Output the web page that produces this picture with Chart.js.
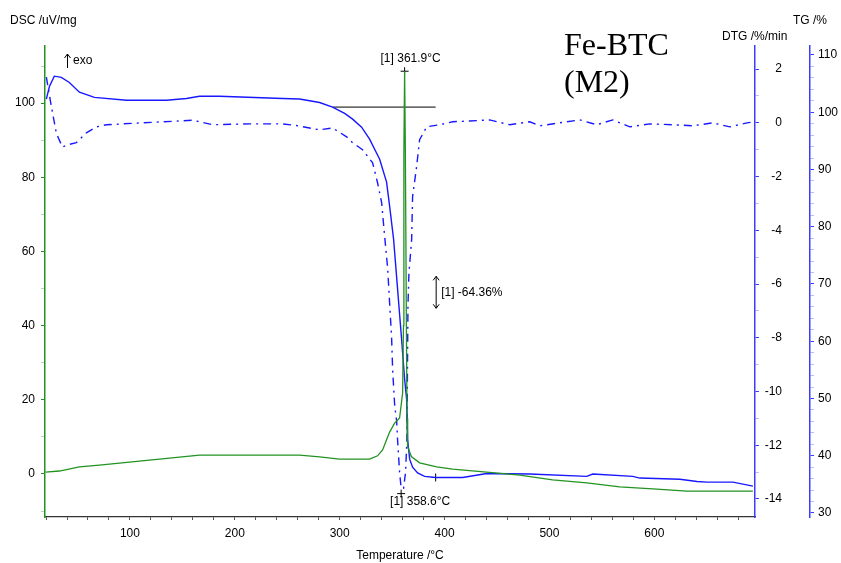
<!DOCTYPE html>
<html>
<head>
<meta charset="utf-8">
<script src="https://cdn.jsdelivr.net/npm/chart.js@4"></script>
<style>
  html, body { margin: 0; padding: 0; background: #fff; }
  #wrap { width: 841px; height: 563px; }
</style>
</head>
<body>
<div id="wrap"><canvas id="tga" width="841" height="563"></canvas></div>
<script>
// TG curve (solid blue, right outer axis)
const tgTemp = [20.3, 23.2, 27.9, 34.6, 42.2, 51.8, 66.1, 96.6, 134.8, 153.9, 166.3, 185.4, 245.5, 261.7, 280.8, 293.2, 304.7, 312.3, 320.9, 328.5, 338.1, 344.7, 347.6, 351.4, 355.2, 359.0, 361.9, 363.8, 364.7, 366.7, 369.5, 374.3, 381.0, 391.5, 417.3, 440.2, 481.2, 535.6, 541.3, 579.5, 586.2, 624.4, 640.7, 650.2, 675.0, 694.0];
const tgMass = [102.3, 104.5, 106.3, 106.1, 105.2, 103.5, 102.6, 102.1, 102.1, 102.4, 102.8, 102.8, 102.4, 102.3, 101.7, 100.9, 99.8, 98.8, 97.4, 95.3, 91.8, 87.8, 83.6, 77.8, 69.1, 60.4, 53.4, 49.9, 42.9, 39.4, 38.0, 37.0, 36.4, 36.2, 36.2, 36.9, 36.8, 36.4, 36.8, 36.4, 36.1, 35.9, 35.5, 35.4, 35.4, 34.7];

// DSC curve (green, left axis)
const dscTemp = [19.5, 32.7, 51.8, 70.9, 99.5, 128.1, 166.3, 233.1, 261.7, 280.8, 299.9, 328.5, 336.1, 340.9, 344.7, 347.6, 352.4, 357.1, 360.0, 360.8, 361.2, 361.9, 362.6, 363.6, 364.2, 364.8, 368.3, 376.2, 392.4, 407.7, 440.2, 471.6, 503.1, 535.6, 567.0, 598.5, 631.0, 694.0];
const dscSignal = [0.5, 0.8, 1.9, 2.4, 3.2, 4.0, 5.1, 5.1, 5.1, 4.6, 4.0, 4.0, 4.9, 6.5, 9.2, 11.3, 13.7, 15.1, 21.8, 40.0, 87.0, 108.6, 87.0, 40.0, 15.0, 7.4, 4.7, 3.0, 1.9, 1.3, 0.5, -0.3, -1.6, -2.4, -3.5, -4.0, -4.6, -4.6];

// DTG curve (dash-dot blue, right inner axis)
const dtgTemp = [20.3, 25.1, 29.9, 35.6, 42.3, 48.9, 58.5, 68.0, 77.6, 111.9, 147.2, 159.6, 178.7, 214.0, 245.5, 258.8, 280.8, 293.2, 306.6, 312.3, 321.8, 331.4, 336.1, 340.0, 342.8, 345.7, 347.6, 349.5, 350.5, 352.4, 354.3, 355.2, 357.1, 358.6, 360.9, 362.8, 364.1, 365.1, 366.0, 368.6, 369.5, 373.3, 376.2, 382.9, 395.3, 407.7, 423.9, 443.0, 462.1, 481.2, 490.7, 509.8, 528.9, 545.1, 560.4, 576.6, 595.7, 617.6, 636.7, 655.8, 672.0, 688.3, 696.0];
const dtgRate = [1.7, 0.6, -0.4, -0.9, -0.8, -0.74, -0.37, -0.15, -0.07, 0.0, 0.07, 0.1, -0.07, -0.04, -0.04, -0.1, -0.26, -0.19, -0.52, -0.74, -1.0, -1.49, -2.23, -2.97, -4.2, -5.4, -6.7, -8.0, -9.2, -10.5, -11.1, -11.8, -13.0, -13.6, -13.6, -13.0, -11.8, -6.8, -5.6, -4.35, -2.75, -1.64, -0.63, -0.15, -0.07, 0.04, 0.07, 0.11, -0.07, 0.04, -0.11, 0.0, 0.11, -0.07, 0.11, -0.15, -0.04, -0.07, -0.11, 0.0, -0.15, 0.0, 0.04];

// evaluation marks
const peakT = 361.9, peakDsc = 108.6;
const dtgMinT = 358.6, dtgMin = -13.6;
const onsetT = [293.2, 391.5], onsetMass = 100.9;
const massEndT = 391.5, massEnd = 36.2;
const massLoss = -64.36;

// tick labels
const tempLabels = [100, 200, 300, 400, 500, 600];
const dscLabels = [0, 20, 40, 60, 80, 100];
const dtgLabels = [-14, -12, -10, -8, -6, -4, -2, 0, 2];
const tgLabels = [30, 40, 50, 60, 70, 80, 90, 100, 110];

const GREEN = '#229322';
const BLUE = '#1818ff';
const AXBLUE = '#3c3cff';
const FONT = '"Liberation Sans", Arial, sans-serif';

function pts(xs, ys) {
  return xs.map((t, i) => ({ x: t, y: ys[i] }));
}

function stepTicks(from, to, step) {
  const out = [];
  for (let v = from; v <= to + 1e-9; v += step) out.push({ value: Math.round(v * 100) / 100 });
  return out;
}

function tickCol(labels, major, minor) {
  return c => (c.tick && labels.includes(c.tick.value)) ? major : minor;
}

// DTG labels are right aligned close to their axis line, pull the label edge in
const dtgLabelEdge = {
  id: 'dtgLabelEdge',
  afterLayout(chart) {
    const s = chart.scales.y1;
    s.right = s.left + 27;
  }
};

const textPlugin = {
  id: 'tgaText',
  afterDraw(chart) {
    const ctx = chart.ctx;
    const { x, y, y1, y2 } = chart.scales;
    ctx.save();
    ctx.fillStyle = '#000';
    ctx.strokeStyle = '#000';
    ctx.lineWidth = 1;
    ctx.font = '12px ' + FONT;
    ctx.textBaseline = 'middle';
    ctx.textAlign = 'left';

    // axis titles
    ctx.fillText('DSC /uV/mg', 10, 21);
    ctx.fillText('DTG /%/min', 722, 37);
    ctx.fillText('TG /%', 793, 21);

    // exo arrow
    ctx.beginPath();
    ctx.moveTo(67.5, 68); ctx.lineTo(67.5, 54);
    ctx.moveTo(64.5, 58); ctx.lineTo(67.5, 54); ctx.lineTo(70.5, 58);
    ctx.stroke();
    ctx.fillText('exo', 73, 61);

    // peak label
    const px = x.getPixelForValue(peakT), py = y.getPixelForValue(peakDsc);
    ctx.textAlign = 'center';
    ctx.fillText('[1] ' + peakT.toFixed(1) + '°C', px + 6, py - 13);

    // DTG min label
    const dx = x.getPixelForValue(dtgMinT), dy = y1.getPixelForValue(dtgMin);
    ctx.fillText('[1] ' + dtgMinT.toFixed(1) + '°C', dx + 19, dy + 13);

    // mass change arrow + label
    const ax = x.getPixelForValue(massEndT) + 0.5;
    const amid = y2.getPixelForValue((onsetMass + massEnd) / 2);
    ctx.beginPath();
    ctx.moveTo(ax, amid - 16); ctx.lineTo(ax, amid + 16);
    ctx.moveTo(ax - 3, amid - 12); ctx.lineTo(ax, amid - 16); ctx.lineTo(ax + 3, amid - 12);
    ctx.moveTo(ax - 3, amid + 12); ctx.lineTo(ax, amid + 16); ctx.lineTo(ax + 3, amid + 12);
    ctx.stroke();
    ctx.textAlign = 'left';
    ctx.fillText('[1] ' + massLoss.toFixed(2) + '%', ax + 5, amid);

    // sample name
    ctx.font = '32px "Liberation Serif", "Times New Roman", serif';
    ctx.textBaseline = 'alphabetic';
    ctx.fillText('Fe-BTC', 564, 55);
    ctx.fillText('(M2)', 564, 92);
    ctx.restore();
  }
};

new Chart(document.getElementById('tga'), {
  type: 'scatter',
  data: {
    datasets: [
      {
        label: 'DSC', data: pts(dscTemp, dscSignal), yAxisID: 'y', showLine: true,
        borderColor: GREEN, borderWidth: 1.3, pointRadius: 0
      },
      {
        label: 'TG', data: pts(tgTemp, tgMass), yAxisID: 'y2', showLine: true,
        borderColor: BLUE, borderWidth: 1.4, pointRadius: 0
      },
      {
        label: 'DTG', data: pts(dtgTemp, dtgRate), yAxisID: 'y1', showLine: true,
        borderColor: BLUE, borderWidth: 1.4, borderDash: [8, 5, 2, 5], pointRadius: 0
      },
      {
        label: 'onset', data: pts(onsetT, [onsetMass, onsetMass]), yAxisID: 'y2', showLine: true,
        borderColor: '#000', borderWidth: 1, pointRadius: 0
      },
      {
        label: 'peak', data: [{ x: peakT, y: peakDsc }], yAxisID: 'y',
        pointStyle: 'cross', pointRadius: 4, borderColor: '#000', borderWidth: 1
      },
      {
        label: 'dtgmin', data: [{ x: dtgMinT, y: dtgMin - 0.2 }], yAxisID: 'y1',
        pointStyle: 'cross', pointRadius: 4, borderColor: '#000', borderWidth: 1
      },
      {
        label: 'tgend', data: [{ x: massEndT, y: massEnd }], yAxisID: 'y2',
        pointStyle: 'cross', pointRadius: 4, borderColor: '#000', borderWidth: 1
      }
    ]
  },
  options: {
    responsive: false,
    animation: false,
    devicePixelRatio: 1,
    layout: { padding: { top: 46, left: 0, right: 0, bottom: 0 } },
    plugins: { legend: { display: false }, tooltip: { enabled: false } },
    scales: {
      x: {
        type: 'linear', position: 'bottom', min: 19, max: 696,
        afterBuildTicks: s => { s.ticks = stepTicks(20, 680, 20); },
        afterFit: s => { s.height = 46; },
        ticks: {
          autoSkip: false, maxRotation: 0, padding: 6, color: '#000',
          font: { family: FONT, size: 12 },
          callback: v => tempLabels.includes(v) ? String(v) : ''
        },
        grid: { drawOnChartArea: false, drawTicks: true, tickLength: 3, tickColor: '#555' },
        border: { color: '#333', width: 1.3 },
        title: {
          display: true, text: 'Temperature /°C', color: '#000',
          font: { family: FONT, size: 12 }, padding: { top: 0, bottom: 0 }
        }
      },
      y: {
        type: 'linear', position: 'left', min: -11.6, max: 115.4,
        afterBuildTicks: s => { s.ticks = stepTicks(-10, 110, 10); },
        afterFit: s => { s.width = 45; },
        ticks: {
          autoSkip: false, padding: 6, color: '#000',
          font: { family: FONT, size: 12 },
          callback: v => dscLabels.includes(v) ? String(v) : ''
        },
        grid: {
          drawOnChartArea: false, drawTicks: true, tickLength: 4,
          tickColor: tickCol(dscLabels, GREEN, 'rgba(34,147,34,0.35)')
        },
        border: { color: GREEN, width: 1.5 }
      },
      y1: {
        type: 'linear', position: 'right', min: -14.67, max: 2.86,
        afterBuildTicks: s => { s.ticks = stepTicks(-14, 2, 1); },
        afterFit: s => { s.width = 55; },
        ticks: {
          autoSkip: false, padding: 5, crossAlign: 'far', color: '#000',
          font: { family: FONT, size: 12 },
          callback: v => dtgLabels.includes(v) ? String(v) : ''
        },
        grid: {
          drawOnChartArea: false, drawTicks: true, tickLength: 4,
          tickColor: tickCol(dtgLabels, AXBLUE, 'rgba(60,60,255,0.35)')
        },
        border: { color: AXBLUE, width: 1.5 }
      },
      y2: {
        type: 'linear', position: 'right', min: 29.3, max: 111.57,
        afterBuildTicks: s => { s.ticks = stepTicks(30, 110, 2); },
        afterFit: s => { s.width = 31; },
        ticks: {
          autoSkip: false, padding: 4, color: '#000',
          font: { family: FONT, size: 12 },
          callback: v => tgLabels.includes(v) ? String(v) : ''
        },
        grid: {
          drawOnChartArea: false, drawTicks: true, tickLength: 4,
          tickColor: tickCol(tgLabels, AXBLUE, 'rgba(60,60,255,0.35)')
        },
        border: { color: AXBLUE, width: 1.5 }
      }
    }
  },
  plugins: [dtgLabelEdge, textPlugin]
});
</script>
</body>
</html>
